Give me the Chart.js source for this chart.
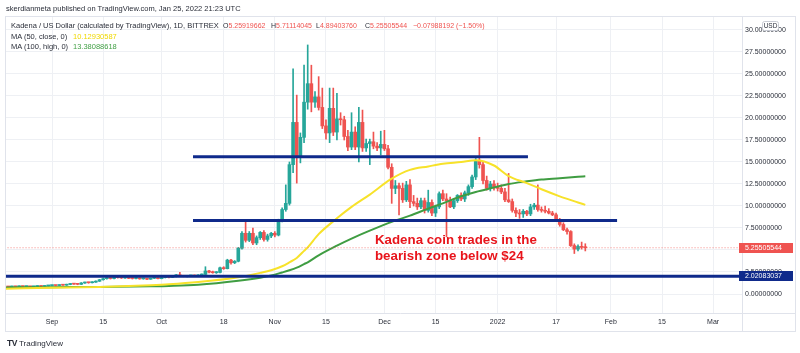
<!DOCTYPE html>
<html><head><meta charset="utf-8">
<script src="https://cdn.jsdelivr.net/npm/chart.js@4.4.1/dist/chart.umd.min.js"></script>
<style>
html,body{margin:0;padding:0;background:#fff;}
#wrap{position:relative;width:800px;height:353px;overflow:hidden;font-family:'Liberation Sans',Arial,sans-serif;}
canvas{position:absolute;left:0;top:0;}
.t{position:absolute;white-space:nowrap;line-height:10px;font-size:7.5px;color:#2a2e39;}
.s{font-size:7px;}
.r{color:#ef5350;}
.ann{position:absolute;white-space:nowrap;color:#e8141b;font-weight:bold;font-size:13.3px;line-height:15px;left:375px;}
</style></head><body>
<div id="wrap">
<canvas id="c" width="800" height="353"></canvas>
<div class="t" style="left:6px;top:4px;">skerdianmeta published on TradingView.com, Jan 25, 2022 21:23 UTC</div>
<div class="t" style="left:11px;top:21px;">Kadena / US Dollar (calculated by TradingView), 1D, BITTREX</div>
<div class="t s" style="left:223px;top:21px;">O<span class="r">5.25919662</span></div>
<div class="t s" style="left:271px;top:21px;">H<span class="r">5.71114045</span></div>
<div class="t s" style="left:316px;top:21px;">L<span class="r">4.89403760</span></div>
<div class="t s" style="left:365px;top:21px;">C<span class="r">5.25505544</span></div>
<div class="t s r" style="left:413px;top:21px;">−0.07988192 (−1.50%)</div>
<div class="t" style="left:11px;top:32px;">MA (50, close, 0)</div>
<div class="t" style="left:73px;top:32px;color:#f0d800;">10.12930587</div>
<div class="t" style="left:11px;top:42px;">MA (100, high, 0)</div>
<div class="t" style="left:73px;top:42px;color:#43a047;">13.38088618</div>
<div class="ann" style="top:232px;">Kadena coin trades in the</div>
<div class="ann" style="top:248px;">bearish zone below $24</div>
<div class="t" style="left:7px;top:338px;font-size:8px;"><b style="font-size:8.5px;letter-spacing:-0.5px">TV</b> TradingView</div>
</div>
<script>
// ---- data (x = days from 1 Sep 2021) ----
const FIRST_DAY = -12; // 20 Aug 2021
const OPEN = [
.82,.80,.85,.82,.88,.84,.86,.82,.85,.90,
.86,.92,.95,.98,.96,1.02,1.00,1.08,1.15,1.12,
1.10,1.25,1.30,1.28,1.35,1.45,1.62,1.74,1.80,1.76,
1.95,1.86,1.82,1.86,1.78,1.76,1.82,1.72,1.76,1.68,
1.78,1.82,1.74,1.86,1.92,1.88,1.98,2.18,2.06,2.02,
2.06,2.10,2.05,2.16,2.22,2.62,2.48,2.42,2.45,2.98,
2.88,3.85,3.55,3.72,5.20,6.90,6.10,6.90,5.80,6.40,
7.00,6.20,6.60,6.90,6.70,8.40,9.60,10.30,14.70,19.50,
15.50,17.80,21.80,23.90,21.80,22.40,21.20,19.10,18.30,21.10,
18.40,19.90,19.80,17.90,16.70,18.40,16.70,19.50,16.60,17.10,
17.30,16.80,16.60,17.00,16.50,14.40,12.00,12.30,12.00,10.70,
12.40,10.50,10.30,9.90,10.60,9.50,10.40,9.20,9.90,11.40,
10.80,10.60,9.90,10.60,11.20,10.80,11.50,12.20,13.30,15.20,
14.70,12.90,12.00,12.50,12.10,12.00,11.60,10.70,10.50,9.50,
9.20,9.10,9.40,9.10,9.90,10.10,9.60,9.50,9.40,9.20,
9.00,8.40,7.90,7.30,7.10,5.50,5.10,5.40,5.25919662];
const HIGH = [
.86,.89,.88,.92,.90,.90,.88,.88,.94,.92,
.95,.98,1.02,1.00,1.05,1.06,1.12,1.20,1.18,1.16,
1.30,1.36,1.34,1.40,1.50,1.66,1.80,1.86,1.84,2.02,
1.98,1.92,1.90,1.88,1.84,1.86,1.84,1.80,1.78,1.80,
1.86,1.84,1.90,1.98,1.96,2.02,2.22,2.45,2.12,2.10,
2.14,2.16,2.20,2.28,3.10,2.70,2.60,2.55,3.05,3.10,
3.95,3.95,3.80,5.30,7.10,8.20,7.10,7.50,6.60,7.10,
7.20,6.80,7.00,7.10,8.50,9.80,12.40,15.00,25.60,22.60,
18.30,26.00,28.30,26.00,23.00,24.70,23.40,19.80,23.40,23.40,
22.80,20.60,20.20,18.60,20.60,19.00,21.20,20.90,17.60,17.60,
18.40,17.20,18.50,18.60,16.90,14.80,12.90,12.60,12.60,12.80,
13.00,11.20,10.90,10.90,10.90,11.80,10.70,10.10,11.60,11.80,
11.40,11.00,10.80,11.30,11.50,11.70,12.40,13.50,15.40,17.80,
15.00,13.40,12.80,12.90,12.60,12.40,12.00,13.70,10.80,9.80,
9.60,9.60,9.50,10.20,10.30,12.40,9.90,10.00,9.70,9.40,
9.20,8.60,8.10,7.50,7.20,5.70,5.60,5.90,5.71114045];
const LOW = [
.76,.78,.79,.80,.81,.82,.78,.80,.83,.83,
.84,.89,.92,.91,.94,.97,.98,1.05,1.08,1.05,
1.08,1.20,1.22,1.25,1.32,1.42,1.58,1.68,1.70,1.72,
1.80,1.76,1.78,1.74,1.70,1.72,1.68,1.68,1.64,1.66,
1.74,1.70,1.72,1.82,1.84,1.86,1.94,2.02,1.96,1.94,
2.00,2.02,2.02,2.10,2.18,2.40,2.36,2.34,2.40,2.80,
2.85,3.40,3.45,3.65,5.10,5.90,5.95,5.60,5.60,6.20,
6.00,6.00,6.40,6.50,6.60,8.20,9.40,10.10,13.80,12.60,
14.90,17.20,21.00,20.70,21.20,20.90,18.80,17.60,17.20,18.00,
17.50,19.20,17.50,16.30,16.40,16.40,15.00,16.20,16.20,14.70,
16.50,16.30,15.80,16.30,14.20,10.30,11.40,9.00,10.40,10.50,
9.80,10.00,9.60,9.70,9.20,9.30,8.90,8.80,9.70,10.60,
6.50,9.80,9.70,10.40,10.60,10.50,11.20,12.00,13.00,14.30,
12.50,11.80,11.70,11.80,11.70,11.40,10.50,10.40,9.30,8.80,
8.60,8.70,8.90,8.90,9.60,9.40,9.30,9.20,9.10,8.90,
8.30,7.70,7.20,6.80,5.40,4.60,4.90,5.10,4.89403760];
const CLOSE = [
.80,.85,.82,.88,.84,.86,.82,.85,.90,.86,
.92,.95,.98,.96,1.02,1.00,1.08,1.15,1.12,1.10,
1.25,1.30,1.28,1.35,1.45,1.62,1.74,1.80,1.76,1.95,
1.86,1.82,1.86,1.78,1.76,1.82,1.72,1.76,1.68,1.78,
1.82,1.74,1.86,1.92,1.88,1.98,2.18,2.06,2.02,2.06,
2.10,2.05,2.16,2.22,2.62,2.48,2.42,2.45,2.98,2.88,
3.85,3.55,3.72,5.20,6.90,6.10,6.90,5.80,6.40,7.00,
6.20,6.60,6.90,6.70,8.40,9.60,10.30,14.70,19.50,15.50,
17.80,21.80,23.90,21.80,22.40,21.20,19.10,18.30,21.10,18.40,
19.90,19.80,17.90,16.70,18.40,16.70,19.50,16.60,17.10,17.30,
16.80,16.60,17.00,16.50,14.40,12.00,12.30,12.00,10.70,12.40,
10.50,10.30,9.90,10.60,9.50,10.40,9.20,9.90,11.40,10.80,
10.60,9.90,10.60,11.20,10.80,11.50,12.20,13.30,15.20,14.70,
12.90,12.00,12.50,12.10,12.00,11.60,10.70,10.50,9.50,9.20,
9.10,9.40,9.10,9.90,10.10,9.60,9.50,9.40,9.20,9.00,
8.40,7.90,7.30,7.10,5.50,5.10,5.40,5.30,5.25505544];

const MA_DAYS   = [-13,0,13,27,32,40,51,57,60,63,65,67,69,70,73,78,82,87,93,98,103,107,112,116,121,125,130,134,139,144,146];
const MA50_CLOSE = [0.60,0.70,0.80,1.00,1.10,1.35,1.90,2.40,2.70,3.15,3.60,4.10,4.90,5.30,6.80,8.60,9.90,11.30,13.10,14.10,14.50,14.80,15.00,15.20,14.60,13.40,12.60,11.90,11.10,10.40,10.13];
const MA100_HIGH = [0.75,0.78,0.80,0.88,0.92,1.05,1.50,1.85,2.10,2.45,2.70,3.00,3.40,3.60,4.40,5.50,6.30,7.20,8.20,8.90,9.70,10.30,11.10,11.60,12.10,12.50,12.80,13.00,13.15,13.32,13.38];

const LAST_PRICE = 5.25505544;
const SUPPORT = 2.02083037;
const RESIST_UPPER = 15.6, RESIST_UPPER_FROM = 38.6, RESIST_UPPER_TO = 130.3;
const RESIST_MID = 8.35, RESIST_MID_FROM = 38.6, RESIST_MID_TO = 154.7;

const PRICE_TICKS = [0,2.5,5,7.5,10,12.5,15,17.5,20,22.5,25,27.5,30];
const TIME_TICK_DAYS = [0,14,30,47,61,75,91,105,122,138,153,167,181];
const TIME_TICK_LABELS = ['Sep','15','Oct','18','Nov','15','Dec','15','2022','17','Feb','15','Mar'];

const X_MIN = -12.6, X_MAX = 188.9, Y_MIN = -2.159, Y_MAX = 31.59;
const UP = '#26a69a', DOWN = '#ef5350', BLUE = '#0f2a8b';
const FONT = "'Liberation Sans', Arial, sans-serif";

const DAYS = OPEN.map((_, i) => FIRST_DAY + i);
const candleColors = OPEN.map((o, i) => CLOSE[i] >= o ? UP : DOWN);

const framePlugin = {
  id: 'frame',
  afterDraw(chart) {
    const ctx = chart.ctx, ys = chart.scales.y;
    ctx.save();
    ctx.strokeStyle = '#e0e3eb'; ctx.lineWidth = 1;
    ctx.strokeRect(5.5, 16.5, 790, 315);
    ctx.beginPath();
    ctx.moveTo(742.5, 16.5); ctx.lineTo(742.5, 331.5);
    ctx.moveTo(5.5, 313.5); ctx.lineTo(795.5, 313.5);
    ctx.stroke();
    function box(v, color) {
      const y = Math.round(ys.getPixelForValue(v));
      ctx.fillStyle = color;
      ctx.fillRect(739, y - 5, 54, 10);
      ctx.fillStyle = '#fff';
      ctx.font = '7px ' + FONT;
      ctx.textBaseline = 'middle'; ctx.textAlign = 'left';
      ctx.fillText(v.toFixed(8), 745, y + 0.5);
    }
    box(LAST_PRICE, DOWN);
    box(SUPPORT, BLUE);
    // USD badge
    ctx.fillStyle = '#fff'; ctx.strokeStyle = '#c9ccd4';
    ctx.beginPath();
    if (ctx.roundRect) ctx.roundRect(762.5, 21.5, 16, 9, 2); else ctx.rect(762.5, 21.5, 16, 9);
    ctx.fill(); ctx.stroke();
    ctx.fillStyle = '#2a2e39'; ctx.font = '6.5px ' + FONT;
    ctx.textAlign = 'center'; ctx.textBaseline = 'middle';
    ctx.fillText('USD', 770.5, 26.3);
    ctx.restore();
  }
};

new Chart(document.getElementById('c'), {
  type: 'bar',
  data: {
    datasets: [
      { type: 'line', data: [{x: -13, y: SUPPORT}, {x: 190, y: SUPPORT}], borderColor: BLUE, borderWidth: 3, pointRadius: 0, order: 1 },
      { type: 'line', data: [{x: RESIST_UPPER_FROM, y: RESIST_UPPER}, {x: RESIST_UPPER_TO, y: RESIST_UPPER}], borderColor: BLUE, borderWidth: 3, pointRadius: 0, order: 1 },
      { type: 'line', data: [{x: RESIST_MID_FROM, y: RESIST_MID}, {x: RESIST_MID_TO, y: RESIST_MID}], borderColor: BLUE, borderWidth: 3, pointRadius: 0, order: 1 },
      { type: 'line', data: [{x: -13, y: LAST_PRICE}, {x: 190, y: LAST_PRICE}], borderColor: 'rgba(239,83,80,0.7)', borderWidth: 1, borderDash: [1, 2], pointRadius: 0, order: 2 },
      { type: 'line', data: MA_DAYS.map((d, i) => ({x: d, y: MA50_CLOSE[i]})), borderColor: '#f7e22a', borderWidth: 2, pointRadius: 0, cubicInterpolationMode: 'monotone', order: 3 },
      { type: 'line', data: MA_DAYS.map((d, i) => ({x: d, y: MA100_HIGH[i]})), borderColor: '#3f9d42', borderWidth: 2, pointRadius: 0, cubicInterpolationMode: 'monotone', order: 3 },
      { type: 'bar', data: DAYS.map((d, i) => ({x: d, y: [LOW[i], HIGH[i]]})), backgroundColor: candleColors, barThickness: 1, grouped: false, order: 5 },
      { type: 'bar', data: DAYS.map((d, i) => ({x: d, y: [OPEN[i], CLOSE[i]]})), backgroundColor: candleColors, barThickness: 3, minBarLength: 1, grouped: false, order: 4 }
    ]
  },
  options: {
    responsive: false, animation: false, events: [],
    layout: { padding: { left: 6, top: 16, right: 5, bottom: 22 } },
    plugins: { legend: { display: false }, tooltip: { enabled: false } },
    scales: {
      x: {
        type: 'linear', min: X_MIN, max: X_MAX, offset: false,
        grid: { color: '#eef0f4', drawTicks: false, offset: false },
        border: { display: false },
        afterBuildTicks: s => { s.ticks = TIME_TICK_DAYS.map(v => ({ value: v })); },
        afterFit: s => { s.height = 18; },
        ticks: { autoSkip: false, maxRotation: 0, padding: 5, color: '#2a2e39', font: { size: 7, family: FONT },
                 callback: (v, i) => TIME_TICK_LABELS[i] }
      },
      y: {
        type: 'linear', position: 'right', min: Y_MIN, max: Y_MAX,
        grid: { color: '#eef0f4', drawTicks: false },
        border: { display: false },
        afterBuildTicks: s => { s.ticks = PRICE_TICKS.map(v => ({ value: v })); },
        afterFit: s => { s.width = 53; },
        ticks: { padding: 3, crossAlign: 'near', color: '#2a2e39', font: { size: 7, family: FONT },
                 callback: v => Number(v).toFixed(8) }
      }
    }
  },
  plugins: [framePlugin]
});
</script>
</body></html>
